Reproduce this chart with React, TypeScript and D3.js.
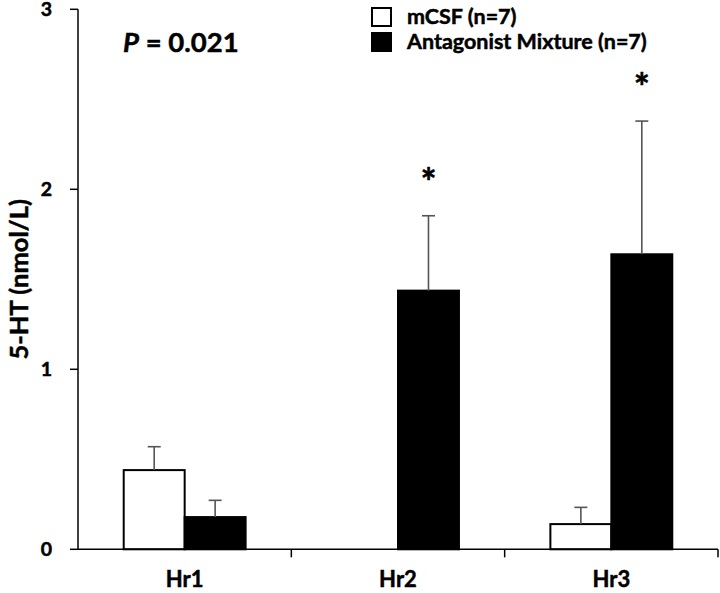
import React from "react";
import * as d3 from "d3";

const categories = ["Hr1", "Hr2", "Hr3"];
const seriesNames = ["mCSF (n=7)", "Antagonist Mixture (n=7)"];
const mcsfValues = [0.44, 0, 0.14];
const mcsfErrors = [0.13, 0, 0.093];
const antagValues = [0.179, 1.437, 1.639];
const antagErrors = [0.093, 0.416, 0.74];
const yTicks = [0, 1, 2, 3];
const starAt = [false, true, true];

const W = 720;
const H = 593;
const FONT = "Lato, 'Liberation Sans', sans-serif";

export default function App() {
  const x = d3.scaleBand().domain(categories).range([78, 718]).paddingInner(0).paddingOuter(0);
  const xs = d3
    .scaleBand()
    .domain(seriesNames)
    .range([0, x.bandwidth()])
    .paddingInner(0)
    .paddingOuter(0.75);
  const y = d3.scaleLinear().domain([0, 3]).range([549.3, 9.3]);

  const series = [
    { name: seriesNames[0], values: mcsfValues, errors: mcsfErrors, fill: "#fff" },
    { name: seriesNames[1], values: antagValues, errors: antagErrors, fill: "#000" },
  ];

  const boundaries = [...categories.map((c) => x(c)!), x(categories[categories.length - 1])! + x.bandwidth()];
  // thicken Lato bold a touch so it reads like the heavier original face
  const bold = { fontWeight: 700, stroke: "#000", strokeWidth: 0.5 } as const;

  return (
    <svg
      width={W}
      height={H}
      style={{ position: "absolute", left: 0, top: 0, background: "#fff" }}
      fontFamily={FONT}
    >
      <rect x={0} y={0} width={W} height={H} fill="#fff" />
      {/* bars */}
      {series.map((s) =>
        categories.map((c, i) => {
          const bx = x(c)! + xs(s.name)!;
          const bw = xs.bandwidth();
          const v = s.values[i];
          if (v <= 0) return null;
          return (
            <rect
              key={s.name + c}
              x={bx}
              y={y(v)}
              width={bw}
              height={y(0) - y(v)}
              fill={s.fill}
              stroke="#000"
              strokeWidth={2}
            />
          );
        })
      )}
      {/* error bars */}
      {series.map((s) =>
        categories.map((c, i) => {
          if (s.errors[i] <= 0) return null;
          const cx = x(c)! + xs(s.name)! + xs.bandwidth() / 2;
          const top = y(s.values[i] + s.errors[i]);
          return (
            <g key={"e" + s.name + c} stroke="#555" strokeWidth={1.6}>
              <line x1={cx} x2={cx} y1={y(s.values[i])} y2={top} />
              <line x1={cx - 6.5} x2={cx + 6.5} y1={top} y2={top} />
            </g>
          );
        })
      )}
      {/* asterisks */}
      {categories.map((c, i) => {
        if (!starAt[i]) return null;
        const cx = x(c)! + xs(seriesNames[1])! + xs.bandwidth() / 2;
        const top = y(antagValues[i] + antagErrors[i]);
        return (
          <text key={"s" + c} x={cx} y={top - 20} textAnchor="middle" fontSize={38} {...bold}>
            *
          </text>
        );
      })}
      {/* y axis */}
      <line x1={78} x2={78} y1={y(3)} y2={y(0)} stroke="#000" strokeWidth={1.5} />
      {yTicks.map((t) => (
        <g key={"yt" + t}>
          <line x1={70} x2={78} y1={y(t)} y2={y(t)} stroke="#000" strokeWidth={1.5} />
          <text x={52} y={y(t)} dy="0.36em" textAnchor="end" fontSize={19.5} {...bold}>
            {t}
          </text>
        </g>
      ))}
      {/* x axis */}
      <line x1={78} x2={718} y1={y(0)} y2={y(0)} stroke="#000" strokeWidth={1.5} />
      {boundaries.slice(1).map((b, i) => (
        <line key={"xt" + i} x1={b} x2={b} y1={y(0)} y2={y(0) + 8} stroke="#000" strokeWidth={1.5} />
      ))}
      {categories.map((c) => (
        <text key={"xl" + c} x={x(c)! + x.bandwidth() / 2} y={587} textAnchor="middle" fontSize={22} {...bold}>
          {c}
        </text>
      ))}
      {/* y title */}
      <text
        transform={`translate(28,${(y(0) + y(3)) / 2}) rotate(-90)`}
        textAnchor="middle"
        fontSize={25.5}
        {...bold}
      >
        5-HT (nmol/L)
      </text>
      {/* P value */}
      <text x={123} y={52} fontSize={27.5} {...bold}>
        <tspan fontStyle="italic">P</tspan> = 0.021
      </text>
      {/* legend */}
      {series.map((s, i) => (
        <g key={"lg" + s.name} transform={`translate(372,${8 + i * 25})`}>
          <rect x={0} y={0} width={19} height={18} fill={s.fill} stroke="#000" strokeWidth={2} />
          <text x={35} y={16} fontSize={21.5} {...bold}>
            {s.name}
          </text>
        </g>
      ))}
    </svg>
  );
}
